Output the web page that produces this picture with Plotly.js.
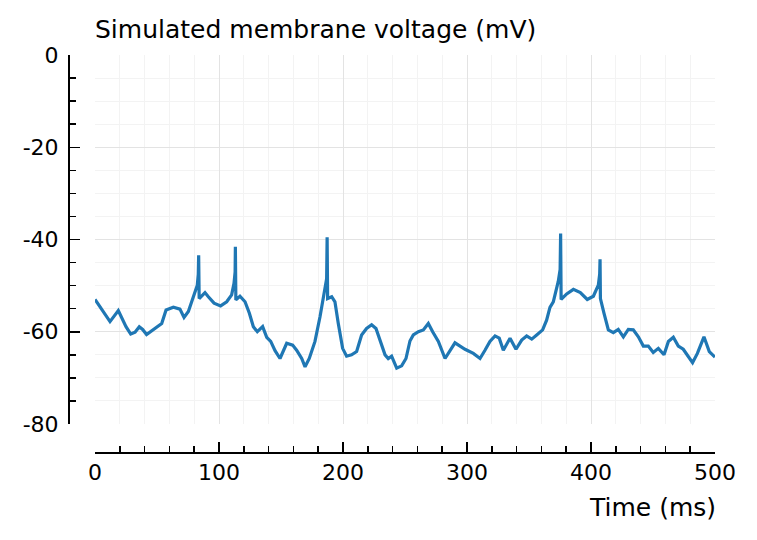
<!DOCTYPE html>
<html>
<head>
<meta charset="utf-8">
<script src="https://cdn.plot.ly/plotly-3.0.1.min.js"></script>
<style>html,body{margin:0;padding:0;background:#fff;}</style>
</head>
<body>
<div id="chart" style="width:757px;height:540px;"></div>
<script>
const timeMs = [0, 12.1, 18.8, 21.5, 25, 28.8, 32.3, 35.7, 38.4, 41.6,
  47, 53.8, 57.3, 63.2, 68.5, 71.8, 75.3, 80.6, 82.5, 83.3,
  83.6, 84.0, 88.7, 91.4, 96, 101.3, 106.2, 110.2, 112.1, 113.0,
  113.2, 113.6, 116.9, 121, 124.5, 127.7, 130.9, 135.2, 138.5, 141.7,
  145.2, 149.2, 151.9, 154.6, 159.4, 162.6, 166.7, 169.4, 172.8, 177.4,
  181.5, 184.7, 186.8, 187.2, 187.6, 190.9, 193.5, 196.2, 199.7, 202.9,
  206.9, 211, 215, 219, 223.1, 226.6, 229.8, 233.9, 236.5, 239.2,
  243.3, 247.3, 250.8, 254, 256.7, 260.8, 264.8, 268.8, 272.3, 276.9,
  282.3, 286.3, 290.3, 294.4, 298.4, 305.1, 310.5, 314.5, 318.5, 322.6,
  326, 329.3, 334.7, 339.5, 344.1, 348.1, 352.2, 356.2, 361, 364.2,
  366.9, 369.6, 373.6, 375.1, 375.5, 375.9, 380.4, 385.8, 391.4, 397,
  401.9, 405.9, 407.0, 407.3, 407.6, 410.5, 414, 418, 422, 426.1,
  430.1, 434.1, 438.2, 442.2, 446.2, 450.2, 454.3, 458.9, 462.4, 466.4,
  470.4, 474.4, 478.5, 481.9, 485.8, 491.1, 495.4, 499.2, 500];

const voltageMv = [-53, -57.8, -55.4, -56.9, -58.9, -60.5, -60.1, -58.9, -59.5, -60.6,
  -59.6, -58.2, -55.3, -54.7, -55.1, -56.9, -55.6, -51.3, -49.9, -47.5,
  -43.4, -52.8, -51.5, -52.4, -53.8, -54.4, -53.5, -52, -49.5, -47,
  -41.6, -53.1, -52.3, -53.5, -56, -58.9, -60, -58.9, -61.2, -62.1,
  -64.1, -65.8, -64, -62.5, -62.9, -64, -65.8, -67.6, -65.8, -62.1,
  -56.7, -51.3, -48.5, -39.5, -52.8, -52.4, -53.5, -58.2, -63.6, -65.3,
  -65, -64.3, -60.7, -59.3, -58.5, -59.3, -61.8, -65, -65.8, -65.3,
  -67.9, -67.4, -65.8, -62, -60.7, -60, -59.6, -58.2, -60, -62.1,
  -65.8, -64, -62.4, -63.1, -63.8, -64.7, -65.8, -64, -62.1, -60.9,
  -61.4, -64, -61.4, -63.8, -61.8, -60.9, -61.6, -60.7, -59.6, -57.5,
  -54.7, -53.5, -49.1, -46.5, -38.7, -53, -51.8, -50.8, -51.5, -53,
  -52.3, -49.9, -47.5, -44.3, -52.8, -56, -59.6, -60.2, -59.5, -61.1,
  -59.5, -59.6, -61.1, -63.1, -63.1, -64.5, -63.6, -65, -62.1, -61.2,
  -63.1, -63.8, -65.3, -66.7, -64.7, -61.1, -64.3, -65.4, -65.5];

const xTickVals = [0, 100, 200, 300, 400, 500];
const xTickText = ['0', '100', '200', '300', '400', '500'];
const yTickVals = [-80, -60, -40, -20, 0];
const yTickText = ['-80', '-60', '-40', '-20', '0'];

const chartTitle = 'Simulated membrane voltage (mV)';
const xTitle = 'Time (ms)';

const trace = {
  x: timeMs, y: voltageMv, type: 'scatter', mode: 'lines',
  line: {color: '#1f77b4', width: 3.2},
  hoverinfo: 'skip'
};

const xDomainStart = (95 - 60) / 655;
const yAxisPos = (68 - 60) / 655;
const yDomainStart = (452 - 424) / 397;

const layout = {
  width: 757, height: 540,
  margin: {l: 60, r: 42, t: 55, b: 88, pad: 0},
  paper_bgcolor: '#ffffff', plot_bgcolor: '#ffffff',
  font: {family: 'DejaVu Sans', size: 22, color: '#000000'},
  showlegend: false,
  title: {
    text: chartTitle, font: {size: 25, color: '#000000'},
    x: xDomainStart, xref: 'paper', xanchor: 'left',
    y: 1, yref: 'paper', yanchor: 'bottom', pad: {b: 17}
  },
  xaxis: {
    range: [0, 500], domain: [xDomainStart, 1], anchor: 'free', position: 0,
    showline: true, linecolor: '#000000', linewidth: 1.5,
    tickmode: 'array', tickvals: xTickVals, ticktext: xTickText,
    ticks: 'inside', ticklen: 10, tickwidth: 1.5, tickcolor: '#000000',
    showgrid: true, gridcolor: '#e3e3e3', gridwidth: 1, zeroline: false,
    minor: {tickmode: 'linear', tick0: 0, dtick: 20, ticks: 'inside', ticklen: 6, tickwidth: 1.5, tickcolor: '#000000',
            showgrid: true, gridcolor: '#f3f3f3', gridwidth: 1},
    tickfont: {size: 22}
  },
  yaxis: {
    range: [-80, 0], domain: [yDomainStart, 1], anchor: 'free', position: yAxisPos, side: 'left',
    showline: true, linecolor: '#000000', linewidth: 1.5,
    tickmode: 'array', tickvals: yTickVals, ticktext: yTickText,
    ticks: 'inside', ticklen: 10, tickwidth: 1.5, tickcolor: '#000000',
    showgrid: true, gridcolor: '#e3e3e3', gridwidth: 1, zeroline: false,
    ticklabelstandoff: 5,
    minor: {tickmode: 'linear', tick0: 0, dtick: 5, ticks: 'inside', ticklen: 6, tickwidth: 1.5, tickcolor: '#000000',
            showgrid: true, gridcolor: '#f3f3f3', gridwidth: 1},
    tickfont: {size: 22}
  },
  annotations: [{
    text: xTitle, xref: 'paper', yref: 'paper', x: 1, y: 0, xanchor: 'right', yanchor: 'middle',
    yshift: -55, xshift: 3, showarrow: false, font: {size: 25, color: '#000000'}
  }]
};

Plotly.newPlot('chart', [trace], layout, {displayModeBar: false, staticPlot: true});
</script>
</body>
</html>
